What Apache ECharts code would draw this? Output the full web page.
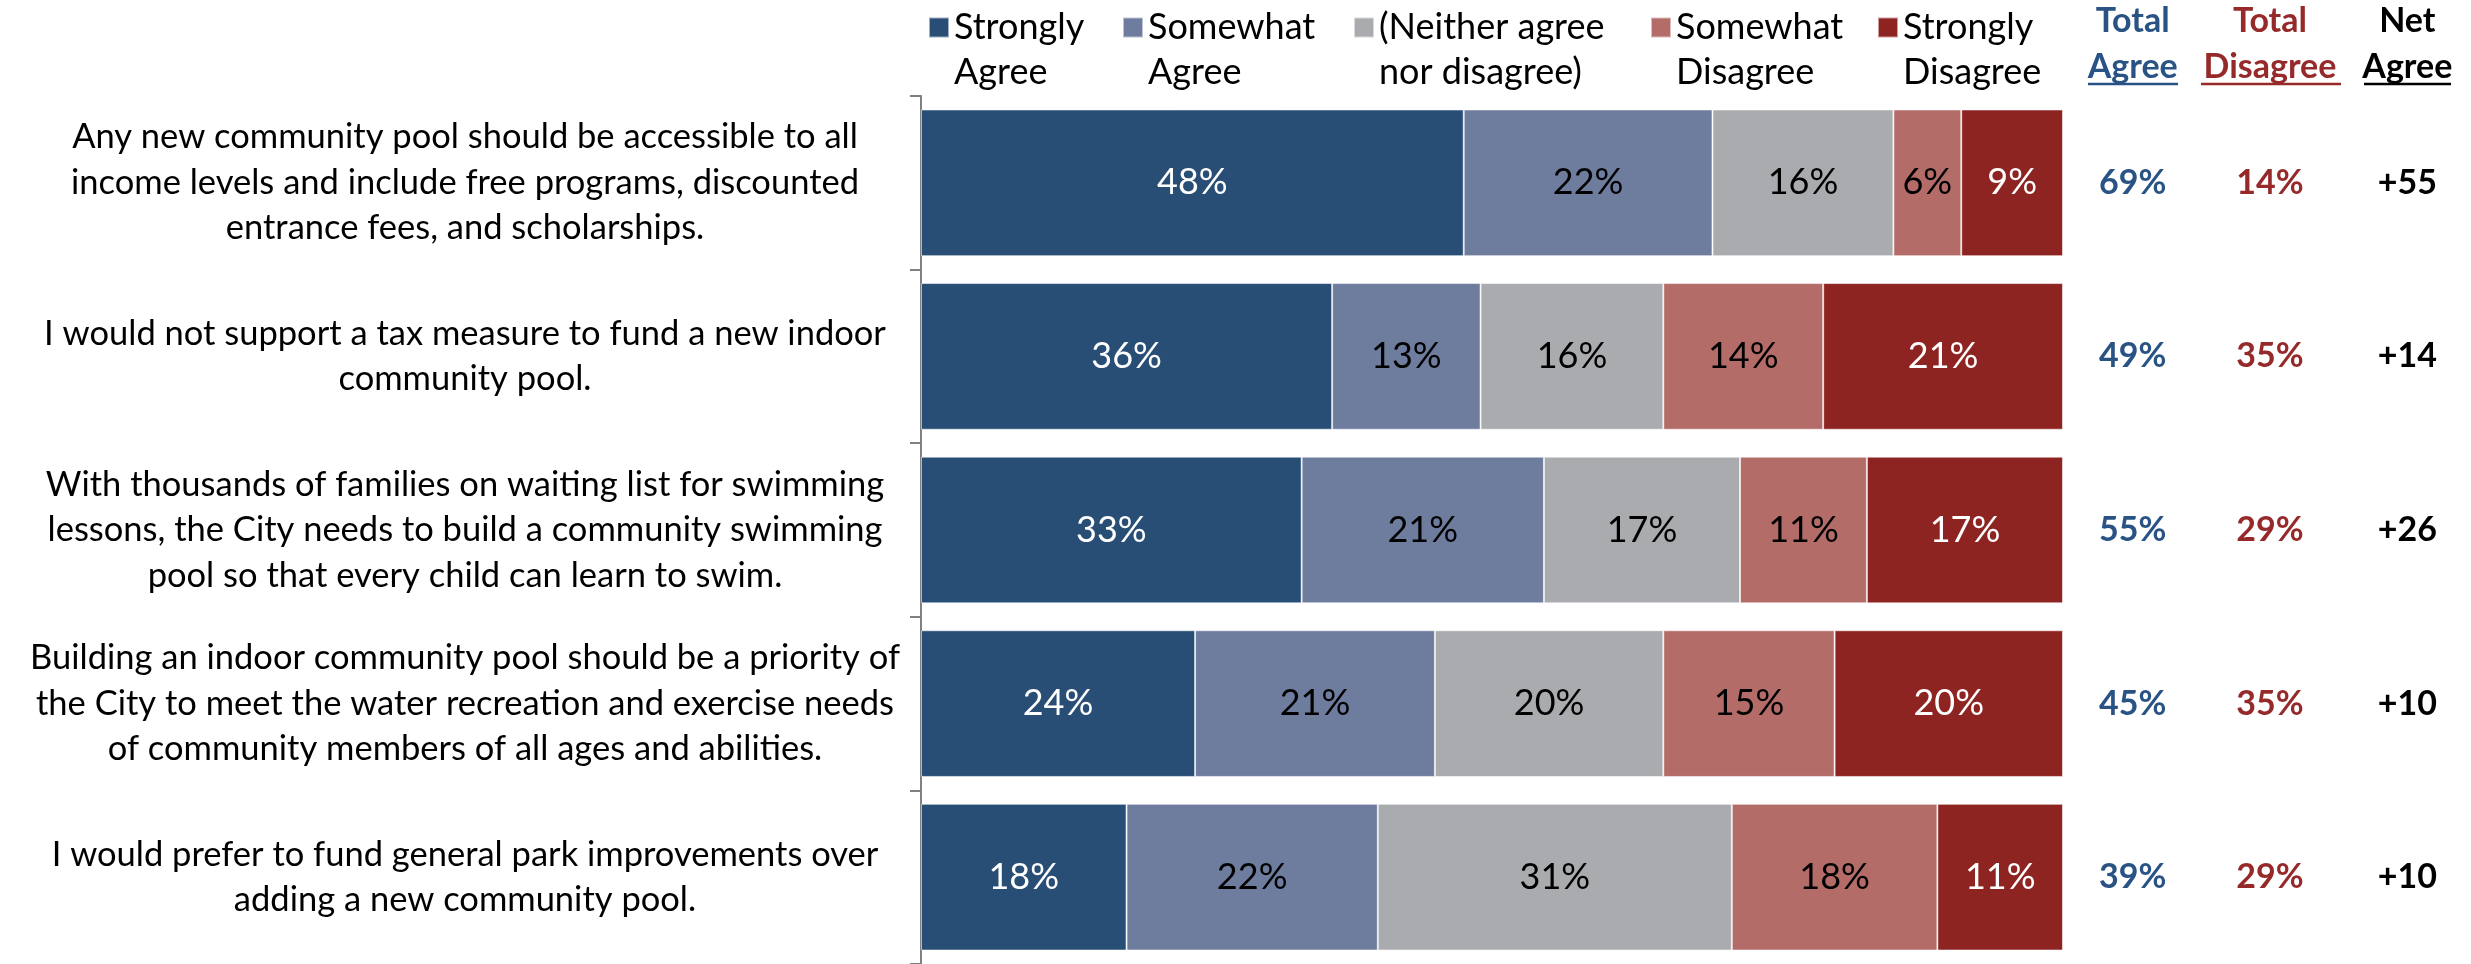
<!DOCTYPE html>
<html>
<head>
<meta charset="utf-8">
<script src="https://cdn.jsdelivr.net/npm/echarts@6/dist/echarts.min.js"></script>
<style>
html,body{margin:0;padding:0;background:#fff;}
#main{width:2471px;height:964px;}
</style>
</head>
<body>
<div id="main"></div>
<script>
const categories = [
  'Any new community pool should be accessible to all\nincome levels and include free programs, discounted\nentrance fees, and scholarships.',
  'I would not support a tax measure to fund a new indoor\ncommunity pool.',
  'With thousands of families on waiting list for swimming\nlessons, the City needs to build a community swimming\npool so that every child can learn to swim.',
  'Building an indoor community pool should be a priority of\nthe City to meet the water recreation and exercise needs\nof community members of all ages and abilities.',
  'I would prefer to fund general park improvements over\nadding a new community pool.'
];
const seriesNames = ['Strongly Agree', 'Somewhat Agree', '(Neither agree nor disagree)', 'Somewhat Disagree', 'Strongly Disagree'];
const legendLabels = ['Strongly\nAgree', 'Somewhat\nAgree', '(Neither agree\nnor disagree)', 'Somewhat\nDisagree', 'Strongly\nDisagree'];
const stronglyAgree    = [48, 36, 33, 24, 18];
const somewhatAgree    = [22, 13, 21, 21, 22];
const neither          = [16, 16, 17, 20, 31];
const somewhatDisagree = [6, 14, 11, 15, 18];
const stronglyDisagree = [9, 21, 17, 20, 11];
const totalAgree    = [69, 49, 55, 45, 39];
const totalDisagree = [14, 35, 29, 35, 29];
const netAgree      = [55, 14, 26, 10, 10];
const columnHeaders = ['Total\nAgree', 'Total\nDisagree', 'Net\nAgree'];

const FONT = 'Lato';
const FS = 36;
const FSA = 34.5;
const FSB = 34;
const colors = ['#294E76', '#6E7C9E', '#AAABAF', '#B36C68', '#8E2422'];
const labelColors = ['#ffffff', '#000000', '#000000', '#000000', '#ffffff'];
const headerColors = ['#2A5385', '#962A2A', '#000000'];
const legendLefts = [928, 1122, 1353, 1650, 1877];

const rows = [stronglyAgree, somewhatAgree, neither, somewhatDisagree, stronglyDisagree];
const rowTotals = categories.map((c, i) => rows.reduce((s, r) => s + r[i], 0));

const barSeries = rows.map((arr, k) => ({
  name: seriesNames[k],
  type: 'bar',
  stack: 'all',
  xAxisIndex: 0, yAxisIndex: 0,
  barCategoryGap: '15.5%',
  itemStyle: { color: colors[k], borderColor: 'rgba(255,255,255,0.55)', borderWidth: 1 },
  label: {
    show: true, position: 'inside',
    fontFamily: FONT, fontSize: FS, color: labelColors[k],
    formatter: p => arr[p.dataIndex] + '%'
  },
  emphasis: { disabled: true },
  data: arr.map((v, i) => v / rowTotals[i] * 100)
}));

function colSeries(arr, col, fmt) {
  return {
    type: 'scatter',
    xAxisIndex: 1, yAxisIndex: 1,
    symbolSize: 1,
    itemStyle: { color: 'rgba(0,0,0,0)', opacity: 1 },
    label: {
      show: true, position: 'inside', opacity: 1,
      fontFamily: FONT, fontSize: FSB, fontWeight: 'bold', color: headerColors[col],
      formatter: p => fmt(arr[p.dataIndex])
    },
    emphasis: { disabled: true },
    data: arr.map((v, i) => [col, i])
  };
}

const rich = {};
headerColors.forEach((c, i) => {
  rich['c' + i] = { fontFamily: FONT, fontSize: FSB, fontWeight: 'bold', color: c, lineHeight: 46, align: 'center' };
});

const legendIcon = 'path://M0,0L20,0L20,20L0,20ZM0,65L0.05,65L0.05,65.05Z';

const option = {
  backgroundColor: '#ffffff',
  animation: false,
  legend: seriesNames.map((n, k) => ({
    data: [{ name: n, icon: legendIcon }],
    left: legendLefts[k], top: 5, padding: 0,
    itemWidth: 20, itemHeight: 65,
    selectedMode: false,
    formatter: () => legendLabels[k],
    textStyle: { fontFamily: FONT, fontSize: FS, color: '#000', lineHeight: 45 }
  })),
  grid: [
    { left: 921, top: 96, width: 1142, height: 868, containLabel: false, outerBoundsMode: 'none' },
    { left: 2064, top: 96, width: 412, height: 868, containLabel: false, outerBoundsMode: 'none' }
  ],
  xAxis: [
    { type: 'value', gridIndex: 0, min: 0, max: 100, show: false },
    {
      type: 'category', gridIndex: 1, data: columnHeaders, position: 'top',
      axisLine: { show: false }, axisTick: { show: false }, splitLine: { show: false },
      axisLabel: {
        show: true, margin: 6, interval: 0,
        formatter: (v, i) => v.split('\n').map(l => '{c' + i + '|' + l + '}').join('\n'),
        rich: rich
      }
    }
  ],
  yAxis: [
    {
      type: 'category', gridIndex: 0, inverse: true, data: categories,
      axisLine: { show: true, lineStyle: { color: '#808080', width: 2 } },
      axisTick: { show: true, length: 11, lineStyle: { color: '#808080', width: 2 } },
      axisLabel: {
        show: true, interval: 0, margin: 456, align: 'center',
        fontFamily: FONT, fontSize: FSA, color: '#000', lineHeight: 45.5
      }
    },
    { type: 'category', gridIndex: 1, inverse: true, data: categories, show: false }
  ],
  graphic: [
    { type: 'line', shape: { x1: 2088, y1: 84, x2: 2178, y2: 84 }, style: { stroke: headerColors[0], lineWidth: 2.5 } },
    { type: 'line', shape: { x1: 2201, y1: 84, x2: 2341, y2: 84 }, style: { stroke: headerColors[1], lineWidth: 2.5 } },
    { type: 'line', shape: { x1: 2364, y1: 84, x2: 2451, y2: 84 }, style: { stroke: headerColors[2], lineWidth: 2.5 } }
  ],
  series: barSeries.concat([
    colSeries(totalAgree, 0, v => v + '%'),
    colSeries(totalDisagree, 1, v => v + '%'),
    colSeries(netAgree, 2, v => '+' + v)
  ])
};

const chart = echarts.init(document.getElementById('main'), null, { renderer: 'canvas' });
chart.setOption(option);
</script>
</body>
</html>
